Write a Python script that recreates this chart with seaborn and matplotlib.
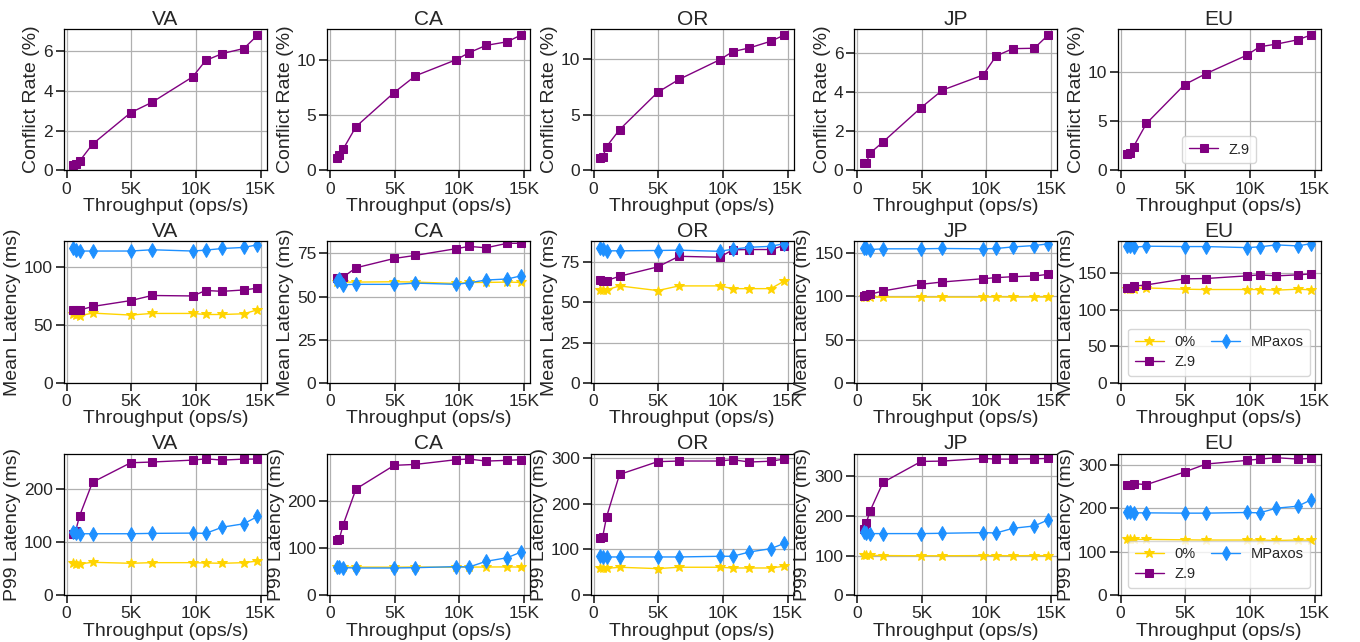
import numpy as np
import pandas as pd
import seaborn as sns
import matplotlib.pyplot as plt
from matplotlib.ticker import FuncFormatter

# === throughput (ops/s), same for every region ===
throughput = [500, 700, 1000, 2000, 4950, 6600, 9750, 10750, 12050, 13700, 14750]
regions = ["VA", "CA", "OR", "JP", "EU"]

# === VA ===
va_conflict = [0.27, 0.32, 0.47, 1.32, 2.9, 3.42, 4.7, 5.52, 5.87, 6.12, 6.78]
va_mean_zero = [59.3, 58.5, 57.9, 60.2, 58.5, 59.9, 59.9, 59.0, 59.0, 59.6, 63.0]
va_mean_z9 = [62.8, 62.5, 62.8, 65.9, 71.0, 75.4, 75.0, 79.7, 79.0, 80.2, 81.7]
va_mean_mp = [116.6, 115.0, 113.8, 113.8, 113.8, 114.9, 113.8, 114.6, 116.0, 116.9, 119.2]
va_p99_zero = [60.4, 59.0, 58.6, 61.7, 59.8, 61.0, 61.0, 60.4, 59.8, 61.0, 64.0]
va_p99_z9 = [115, 121, 149, 212, 248.6, 250, 253.6, 256, 253.6, 255.5, 255.5]
va_p99_mp = [119, 117.4, 115.3, 115.3, 115.3, 116, 116.5, 116, 127.7, 134, 147.7]

# === CA ===
ca_conflict = [1.11, 1.39, 1.93, 3.98, 7.08, 8.6, 10.06, 10.7, 11.36, 11.69, 12.3]
ca_mean_zero = [58.6, 58.4, 58.4, 58.4, 58.6, 58.4, 57.6, 58.2, 58.2, 58.4, 58.2]
ca_mean_z9 = [60.5, 60.8, 61.3, 66.7, 72.1, 73.9, 77.8, 79.1, 78.3, 80.9, 80.9]
ca_mean_mp = [58.8, 60.2, 56.9, 57.1, 57.1, 57.8, 57.1, 58.0, 59.6, 60.2, 62.0]
ca_p99_zero = [59.6, 59.2, 59.0, 59.4, 59.2, 59.6, 59.0, 59.4, 59.6, 59.8, 59.4]
ca_p99_z9 = [116.5, 117.9, 148.8, 225, 275, 277, 287, 288.4, 284, 285.6, 287]
ca_p99_mp = [60.4, 60.4, 58.2, 57.5, 57.5, 58.2, 60.4, 59.6, 71.6, 79.3, 91.2]

# === OR ===
or_conflict = [1.16, 1.19, 2.15, 3.67, 7.04, 8.2, 9.97, 10.7, 11.04, 11.64, 12.2]
or_mean_zero = [57.7, 57.7, 57.7, 60.2, 57.3, 60.2, 60.2, 58.5, 58.5, 58.5, 63.3]
or_mean_z9 = [63.7, 63.3, 63.5, 66.2, 72.0, 78.6, 78.0, 82.6, 82.8, 82.8, 85.3]
or_mean_mp = [83.6, 83.4, 82.0, 82.0, 82.2, 82.4, 81.7, 83.0, 84.2, 84.8, 86.5]
or_p99_zero = [58.8, 58.8, 58.5, 61.0, 58.0, 61.0, 61.0, 59.4, 59.4, 59.4, 63.2]
or_p99_z9 = [125.6, 127.8, 171.4, 264, 292, 293.4, 293.4, 296.3, 291.2, 293, 297.7]
or_p99_mp = [85.0, 84.2, 83.5, 83.5, 83.5, 83.5, 85.0, 85.0, 94.4, 101.7, 113.3]

# === JP ===
jp_conflict = [0.36, 0.38, 0.88, 1.45, 3.2, 4.09, 4.86, 5.83, 6.2, 6.22, 6.88]
jp_mean_zero = [99.2, 99.2, 99.0, 99.0, 99.0, 99.0, 99.0, 99.2, 99.0, 99.2, 99.0]
jp_mean_z9 = [100.4, 101.0, 102.3, 106.1, 113.8, 116.5, 120.3, 121.5, 122.6, 123.4, 125.3]
jp_mean_mp = [156.3, 156.0, 154.0, 154.8, 154.8, 155.2, 154.8, 155.2, 157.0, 158.6, 160.5]
jp_p99_zero = [100.8, 100.5, 100.5, 100.0, 99.5, 99.5, 100.0, 100.0, 99.5, 100.0, 99.5]
jp_p99_z9 = [166.4, 181.5, 212.6, 284.9, 337.8, 338.7, 345.4, 343.7, 343.7, 344.5, 345.4]
jp_p99_mp = [159.7, 157.0, 155.5, 155.5, 155.5, 156.3, 158.0, 157.0, 168.9, 174.8, 190.0]

# === EU ===
eu_conflict = [1.65, 1.75, 2.42, 4.78, 8.72, 9.83, 11.7, 12.56, 12.83, 13.27, 13.77]
eu_mean_zero = [128.6, 128.2, 128.2, 129.5, 127.7, 127.3, 127.3, 127.3, 126.4, 127.7, 126.8]
eu_mean_z9 = [129.5, 130.0, 131.8, 133.6, 141.8, 142.3, 145.9, 147.3, 145.9, 147.3, 148.6]
eu_mean_mp = [186.4, 186.8, 185.0, 186.4, 185.9, 185.9, 184.5, 185.5, 188.2, 186.8, 190.0]
eu_p99_zero = [129.3, 128.5, 128.5, 128.5, 127.5, 127.0, 127.0, 127.0, 126.0, 127.0, 126.5]
eu_p99_z9 = [254.8, 254.8, 257.0, 254.8, 283.9, 302.2, 310.6, 313.7, 316.8, 313.7, 315.3]
eu_p99_mp = [192.0, 191.3, 189.7, 189.7, 189.0, 189.0, 190.5, 189.7, 200.5, 205.0, 220.0]

conflict = [va_conflict, ca_conflict, or_conflict, jp_conflict, eu_conflict]
mean_lat = [
    (va_mean_zero, va_mean_z9, va_mean_mp),
    (ca_mean_zero, ca_mean_z9, ca_mean_mp),
    (or_mean_zero, or_mean_z9, or_mean_mp),
    (jp_mean_zero, jp_mean_z9, jp_mean_mp),
    (eu_mean_zero, eu_mean_z9, eu_mean_mp),
]
p99_lat = [
    (va_p99_zero, va_p99_z9, va_p99_mp),
    (ca_p99_zero, ca_p99_z9, ca_p99_mp),
    (or_p99_zero, or_p99_z9, or_p99_mp),
    (jp_p99_zero, jp_p99_z9, jp_p99_mp),
    (eu_p99_zero, eu_p99_z9, eu_p99_mp),
]

# style of each series: (label, colour, marker, markersize)
styles = [
    ("0%", "#FFD400", "*", 7),
    ("Z.9", "#800080", "s", 5.5),
    ("MPaxos", "#1E90FF", "d", 7),
]

sns.set_theme(style="ticks", rc={
    "axes.grid": True,
    "grid.color": "#b0b0b0",
    "grid.linewidth": 0.9,
    "axes.edgecolor": "black",
    "axes.linewidth": 0.9,
    "xtick.labelsize": 12.5,
    "ytick.labelsize": 12.5,
    "axes.labelsize": 14,
    "axes.titlesize": 15,
    "legend.fontsize": 10.5,
})
plt.rcParams["font.family"] = ["Liberation Sans", "DejaVu Sans"]

fig, axes = plt.subplots(3, 5, figsize=(13.6, 6.42), dpi=100)
plt.subplots_adjust(left=0.047, right=0.971, top=0.955, bottom=0.073, wspace=0.3, hspace=0.5)

kfmt = FuncFormatter(lambda v, p: "0" if v == 0 else f"{int(v / 1000)}K")


def draw(ax, series, names):
    for ys, (lab, col, mk, ms) in zip(series, names):
        df = pd.DataFrame({"x": throughput, "y": ys})
        sns.lineplot(data=df, x="x", y="y", ax=ax, color=col, marker=mk, markersize=ms,
                     markeredgecolor=col, linewidth=1.0, label=lab, legend=False)


for i, reg in enumerate(regions):
    # conflict rate
    draw(axes[0, i], [conflict[i]], [styles[1]])
    axes[0, i].set_ylabel("Conflict Rate (%)")
    # mean latency
    draw(axes[1, i], mean_lat[i], styles)
    axes[1, i].set_ylabel("Mean Latency (ms)")
    # p99 latency
    draw(axes[2, i], p99_lat[i], styles)
    axes[2, i].set_ylabel("P99 Latency (ms)")

    for r in range(3):
        a = axes[r, i]
        a.set_title(reg, pad=3)
        a.set_xlabel("Throughput (ops/s)", labelpad=1)
        a.yaxis.labelpad = 2
        a.set_ylim(bottom=0)
        a.set_xticks([0, 5000, 10000, 15000])
        a.xaxis.set_major_formatter(kfmt)
        a.tick_params(pad=2)

leg_kw = dict(loc="lower center", frameon=True, borderpad=0.45, labelspacing=0.4,
              handlelength=2.0, handletextpad=0.7, edgecolor="#cccccc")
axes[0, 4].legend(**leg_kw)
for r in (1, 2):
    axes[r, 4].legend(ncol=2, columnspacing=1.1, **leg_kw)

plt.savefig("out.png", dpi=100)
